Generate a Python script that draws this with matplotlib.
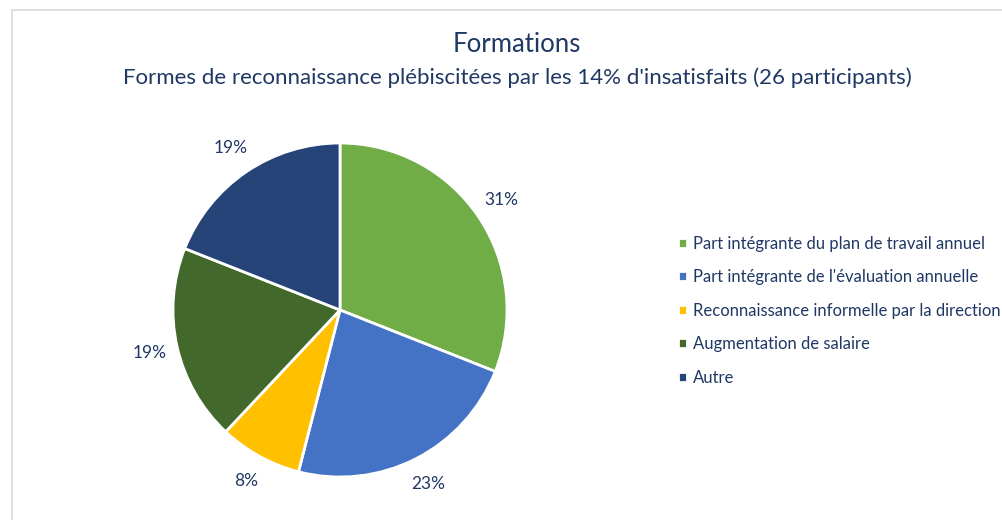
import matplotlib.pyplot as plt
from matplotlib.patches import Rectangle

categories = [
    "Part intégrante du plan de travail annuel",
    "Part intégrante de l'évaluation annuelle",
    "Reconnaissance informelle par la direction",
    "Augmentation de salaire",
    "Autre",
]
shares = [31, 23, 8, 19, 19]
colors = ["#70AD47", "#4472C4", "#FFC000", "#43682B", "#264478"]

TEXT = "#1F3864"
W, H = 1003, 520

plt.rcParams['font.family'] = ['Lato', 'DejaVu Sans']

fig = plt.figure(figsize=(W / 100, H / 100), dpi=100)

# light frame of the chart area (right and bottom edges fall outside the picture)
fig.patches.append(Rectangle((12 / W, -0.1), 1.1, 1.1 - 10 / H,
                             transform=fig.transFigure, fill=False,
                             edgecolor="#D9D9D9", linewidth=1.2))

fig.text(517 / W, 1 - 45 / H, "Formations", ha='center', va='center',
         fontsize=18.5, color=TEXT)
fig.text(517 / W, 1 - 78 / H,
         "Formes de reconnaissance plébiscitées par les 14% d'insatisfaits (26 participants)",
         ha='center', va='center', fontsize=16, color=TEXT)

# pie centred at about (340, 310) px, radius ~167 px
cx, cy, r = 340, 310, 167
ax = fig.add_axes([(cx - r) / W, (H - cy - r) / H, 2 * r / W, 2 * r / H])
wedges, texts = ax.pie(shares, colors=colors, startangle=90, counterclock=False,
                       labels=[f"{v}%" for v in shares], labeldistance=1.17,
                       wedgeprops=dict(edgecolor='white', linewidth=2),
                       textprops=dict(color=TEXT, fontsize=12.5))
for t in texts:
    t.set_ha('center')
    t.set_va('center')
ax.set_xlim(-1, 1)
ax.set_ylim(-1, 1)
ax.set_aspect('equal')

leg = fig.legend(wedges, categories, loc='upper left',
                 bbox_to_anchor=(671 / W, 1 - 229 / H), frameon=False,
                 fontsize=12, labelcolor=TEXT, handlelength=0.55, handleheight=0.55,
                 handletextpad=0.35, labelspacing=1.05, borderaxespad=0)

fig.savefig("out.png", dpi=100, facecolor='white')
